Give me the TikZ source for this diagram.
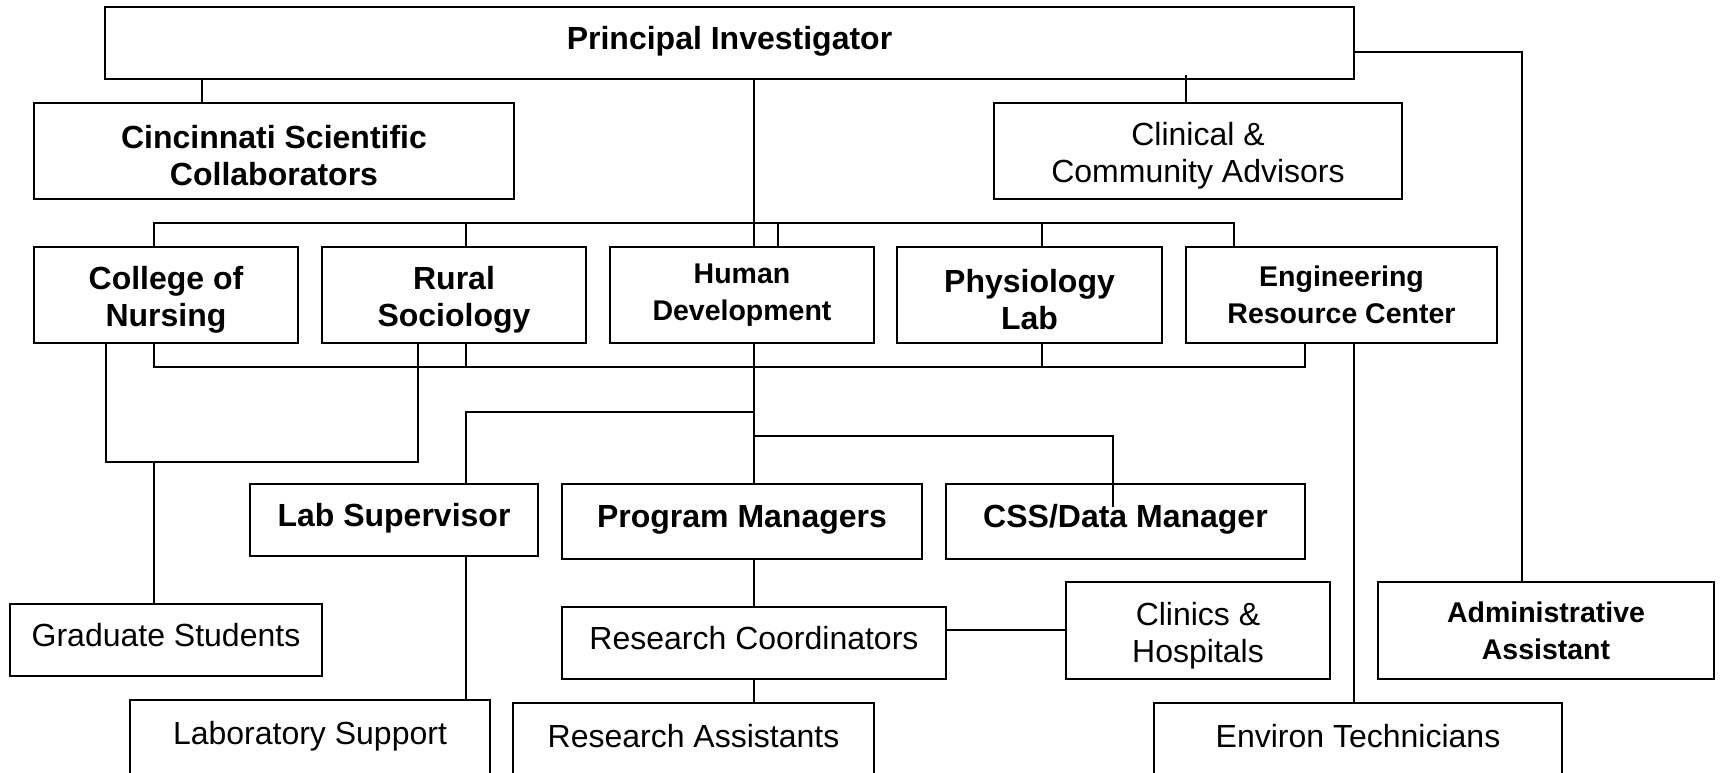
\documentclass[tikz,border=0pt]{standalone}
\usepackage{fontspec}
\setmainfont{Liberation Sans}
\newcommand\mytopstrut{\rule{0pt}{33pt}}
\begin{document}
\begin{tikzpicture}[x=1pt,y=-1pt,
  box/.style={draw, line width=2.2pt, inner sep=0pt, align=center, font=\fontsize{32}{37}\selectfont},
  bbox/.style={box, font=\fontsize{32}{37}\selectfont\bfseries},
  sbox/.style={box, font=\fontsize{28.5}{37}\selectfont\bfseries},
  one/.style={text height=34pt, text depth=22pt},
  conn/.style={line width=1.8pt}]
\useasboundingbox (0,0) rectangle (1721,772);
\clip (0,0) rectangle (1721,772);

% boxes
\node[bbox, one, minimum width=1249pt, minimum height=72pt] (pi) at (729.5,43) {Principal Investigator};
\node[bbox, minimum width=480pt, minimum height=96pt] (cinc) at (274,151) {\mytopstrut Cincinnati Scientific\\Collaborators};
\node[box, minimum width=408pt, minimum height=96pt] (clin) at (1198,151) {\mytopstrut Clinical \&\\Community Advisors};
\node[bbox, minimum width=264pt, minimum height=96pt] (con) at (166,295) {\mytopstrut College of\\Nursing};
\node[bbox, minimum width=264pt, minimum height=96pt] (rs) at (454,295) {\mytopstrut Rural\\Sociology};
\node[sbox, minimum width=264pt, minimum height=96pt] (hd) at (742,295) {Human\\Development};
\node[bbox, minimum width=265pt, minimum height=96pt] (pl) at (1029.5,295) {\mytopstrut Physiology\\Lab};
\node[sbox, minimum width=311pt, minimum height=96pt] (erc) at (1341.5,295) {Engineering\\Resource Center};
\node[bbox, one, minimum width=288pt, minimum height=72pt] (ls) at (394,520) {Lab Supervisor};
\node[bbox, one, minimum width=360pt, minimum height=75pt] (pm) at (742,521.5) {Program Managers};
\node[bbox, one, minimum width=359pt, minimum height=75pt] (css) at (1125.5,521.5) {CSS/Data Manager};
\node[box, one, minimum width=312pt, minimum height=72pt] (gs) at (166,640) {Graduate Students};
\node[box, one, minimum width=384pt, minimum height=72pt] (rc) at (754,643) {Research Coordinators};
\node[box, minimum width=264pt, minimum height=97pt] (ch) at (1198,630.5) {\mytopstrut Clinics \&\\Hospitals};
\node[sbox, minimum width=336pt, minimum height=97pt] (adm) at (1546,630.5) {Administrative\\Assistant};
\node[box, one, minimum width=360pt, minimum height=76pt] (lsup) at (310,738) {Laboratory Support};
\node[box, one, minimum width=361pt, minimum height=76pt] (ra) at (693.5,741) {Research Assistants};
\node[box, one, minimum width=408pt, minimum height=76pt] (env) at (1358,741) {Environ Technicians};

% helper coordinates
\coordinate (xa) at (202,0);
\coordinate (xm) at (754,0);
\coordinate (x1) at (154,0);
\coordinate (x2) at (466,0);
\coordinate (x3) at (778,0);
\coordinate (x4) at (1042,0);
\coordinate (x5) at (1234,0);
\coordinate (x6) at (1305,0);
\coordinate (x7) at (106,0);
\coordinate (x8) at (418,0);
\coordinate (x9) at (1113,0);
\coordinate (x10) at (1354,0);
\coordinate (x11) at (1522,0);
\coordinate (ytop) at (0,223);
\coordinate (ybot) at (0,367);
\coordinate (yloop) at (0,462);
\coordinate (yls) at (0,412);
\coordinate (ycss) at (0,436);
\coordinate (y52) at (0,52);
\coordinate (y630) at (0,630);
\coordinate (cl0) at (1186,75);
\coordinate (cssend) at (1113,507);

% connectors
\draw[conn] (pi.south -| xa) -- (cinc.north -| xa);
\draw[conn] (cl0) -- (clin.north -| cl0);
\draw[conn] (pi.east |- y52) -- (x11 |- y52) -- (adm.north -| x11);
\draw[conn] (pi.south -| xm) -- (hd.north -| xm);
\draw[conn] (con.north -| x1) -- (x1 |- ytop) -- (x5 |- ytop) -- (erc.north -| x5);
\draw[conn] (x2 |- ytop) -- (rs.north -| x2);
\draw[conn] (x3 |- ytop) -- (hd.north -| x3);
\draw[conn] (x4 |- ytop) -- (pl.north -| x4);
\draw[conn] (con.south -| x1) -- (x1 |- ybot) -- (x6 |- ybot) -- (erc.south -| x6);
\draw[conn] (rs.south -| x2) -- (x2 |- ybot);
\draw[conn] (pl.south -| x4) -- (x4 |- ybot);
\draw[conn] (con.south -| x7) -- (x7 |- yloop) -- (x8 |- yloop) -- (rs.south -| x8);
\draw[conn] (x1 |- yloop) -- (gs.north -| x1);
\draw[conn] (hd.south -| xm) -- (pm.north -| xm);
\draw[conn] (xm |- yls) -- (x2 |- yls) -- (ls.north -| x2);
\draw[conn] (xm |- ycss) -- (x9 |- ycss) -- (cssend);
\draw[conn] (erc.south -| x10) -- (env.north -| x10);
\draw[conn] (ls.south -| x2) -- (lsup.north -| x2);
\draw[conn] (pm.south -| xm) -- (rc.north -| xm);
\draw[conn] (rc.south -| xm) -- (ra.north -| xm);
\draw[conn] (rc.east |- y630) -- (ch.west |- y630);
\end{tikzpicture}
\end{document}
